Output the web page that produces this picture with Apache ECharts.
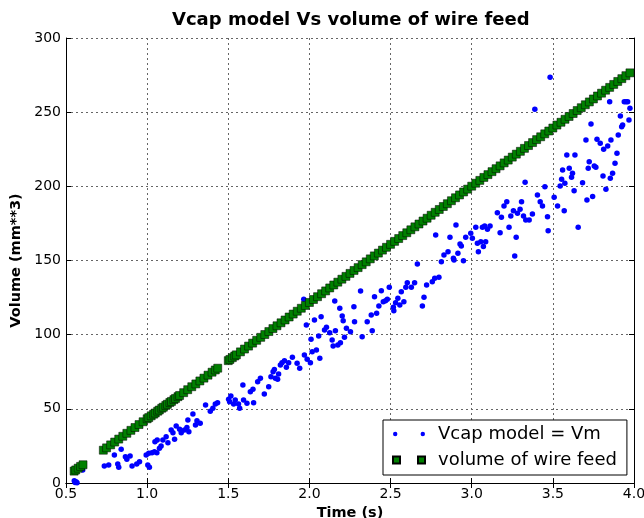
<!DOCTYPE html>
<html>
<head>
<meta charset="utf-8">
<script src="https://cdn.jsdelivr.net/npm/echarts@6/dist/echarts.min.js"></script>
<style>
  html, body { margin: 0; padding: 0; background: #fff; }
  #chart { width: 644px; height: 518px; }
</style>
</head>
<body>
<div id="chart"></div>
<script>
// Vcap model (blue dots)
const vcapTime = [
  0.551, 0.556, 0.562, 0.568, 0.603, 0.736, 0.763, 0.798, 0.819, 0.825,
  0.84, 0.866, 0.875, 0.895, 0.907, 0.936, 0.953, 0.994, 1.004, 1.01,
  1.014, 1.03, 1.045, 1.048, 1.06, 1.062, 1.076, 1.086, 1.097, 1.117,
  1.128, 1.148, 1.159, 1.169, 1.179, 1.2, 1.21, 1.23, 1.245, 1.251,
  1.257, 1.282, 1.298, 1.307, 1.327, 1.36, 1.389, 1.405, 1.42, 1.434,
  1.502, 1.508, 1.516, 1.533, 1.543, 1.563, 1.57, 1.59, 1.594, 1.615,
  1.636, 1.652, 1.656, 1.681, 1.698, 1.722, 1.749, 1.763, 1.776, 1.784,
  1.79, 1.804, 1.81, 1.821, 1.831, 1.846, 1.858, 1.872, 1.895, 1.924,
  1.94, 1.965, 1.969, 1.981, 1.986, 2.006, 2.01, 2.017, 2.031, 2.043,
  2.057, 2.064, 2.072, 2.093, 2.105, 2.125, 2.14, 2.146, 2.156, 2.16,
  2.175, 2.187, 2.191, 2.202, 2.208, 2.216, 2.228, 2.253, 2.274, 2.278,
  2.315, 2.325, 2.356, 2.381, 2.387, 2.401, 2.414, 2.428, 2.443, 2.455,
  2.469, 2.48, 2.492, 2.517, 2.52, 2.531, 2.545, 2.557, 2.566, 2.582,
  2.594, 2.603, 2.628, 2.648, 2.665, 2.696, 2.706, 2.722, 2.757, 2.772,
  2.778, 2.798, 2.813, 2.829, 2.854, 2.866, 2.887, 2.891, 2.903, 2.915,
  2.928, 2.936, 2.949, 2.963, 2.994, 3.004, 3.025, 3.035, 3.041, 3.056,
  3.066, 3.072, 3.08, 3.086, 3.097, 3.113, 3.158, 3.175, 3.183, 3.199,
  3.216, 3.23, 3.241, 3.257, 3.265, 3.274, 3.282, 3.298, 3.307, 3.319,
  3.329, 3.333, 3.354, 3.374, 3.389, 3.405, 3.422, 3.436, 3.451, 3.467,
  3.471, 3.483, 3.508, 3.529, 3.545, 3.554, 3.56, 3.57, 3.574, 3.586,
  3.601, 3.615, 3.621, 3.631, 3.636, 3.656, 3.683, 3.704, 3.71, 3.718,
  3.724, 3.735, 3.745, 3.755, 3.765, 3.772, 3.792, 3.809, 3.813, 3.827,
  3.838, 3.85, 3.854, 3.858, 3.868, 3.883, 3.895, 3.903, 3.916, 3.924,
  3.93, 3.94, 3.951, 3.961, 3.969, 3.975
];
const vcapVolume = [
  1.5, 0.3, 0.9, 0.2, 8.8, 11.5, 12.1, 18.9, 12.8, 10.6,
  22.7, 17.7, 16.0, 18.2, 11.5, 12.8, 14.4, 18.9, 12.1, 20.0,
  10.6, 20.4, 21.1, 27.8, 20.4, 29.0, 23.4, 24.9, 29.0, 31.2,
  27.2, 35.7, 33.9, 29.5, 38.4, 36.2, 33.9, 35.7, 37.5, 42.5,
  34.6, 46.5, 39.1, 42.0, 40.2, 52.6, 48.4, 50.4, 53.3, 54.1,
  56.4, 54.8, 58.7, 53.3, 56.0, 53.3, 50.4, 66.1, 56.0, 53.7,
  61.6, 63.2, 54.1, 68.3, 70.6, 60.0, 64.9, 71.7, 75.0, 76.6,
  70.6, 69.9, 73.5, 79.6, 81.1, 82.5, 78.0, 81.1, 84.7, 80.7,
  77.3, 123.8, 86.3, 106.5, 83.4, 81.1, 96.9, 88.5, 109.9, 89.7,
  99.1, 84.1, 112.1, 103.1, 105.0, 101.3, 96.4, 92.4, 122.7, 102.7,
  93.0, 117.8, 94.6, 112.6, 109.4, 98.2, 104.3, 102.0, 118.9, 108.7,
  129.4, 98.6, 108.7, 113.3, 102.7, 125.6, 114.4, 119.3, 129.6, 122.2,
  122.9, 123.8, 131.9, 118.4, 116.2, 121.6, 124.5, 120.0, 129.0, 122.2,
  131.9, 135.0, 131.9, 135.0, 147.6, 119.3, 125.2, 133.5, 135.7, 138.0,
  167.2, 138.7, 149.2, 153.7, 155.9, 165.6, 151.5, 150.3, 173.9, 154.9,
  161.1, 159.8, 149.9, 165.6, 168.3, 165.0, 172.4, 161.6, 155.9, 162.7,
  172.4, 159.4, 173.3, 162.7, 171.0, 173.3, 182.2, 168.7, 179.1, 186.7,
  189.6, 172.4, 180.0, 183.6, 153.1, 165.6, 181.8, 184.5, 189.6, 180.0,
  202.7, 177.3, 177.3, 181.4, 251.9, 194.2, 189.6, 186.7, 199.8, 179.5,
  170.1, 273.5, 192.6, 186.7, 200.2, 204.7, 211.0, 183.6, 202.0, 221.1,
  212.2, 206.1, 208.8, 197.1, 221.1, 172.4, 202.5, 231.2, 190.8, 212.2,
  216.6, 242.0, 193.1, 213.7, 212.8, 231.7, 229.0, 207.0, 225.0, 198.0,
  227.2, 257.1, 205.4, 231.2, 208.8, 215.5, 222.3, 234.6, 247.4, 240.2,
  241.3, 257.1, 257.1, 257.1, 244.7, 252.6
];

// volume of wire feed (green squares)
const feedTime = [
  0.55, 0.56, 0.575, 0.59, 0.605,
  0.73, 0.75, 0.775, 0.8, 0.825, 0.85, 0.875, 0.9, 0.925, 0.95, 0.975,
  1.0, 1.01, 1.025, 1.04, 1.05, 1.065, 1.075, 1.09, 1.1, 1.115, 1.125,
  1.14, 1.15, 1.165, 1.175, 1.19, 1.2, 1.225, 1.25, 1.275, 1.3, 1.325,
  1.35, 1.375, 1.4, 1.42, 1.435,
  1.5, 1.51, 1.525, 1.54, 1.55, 1.575, 1.6, 1.625, 1.65, 1.675, 1.7,
  1.725, 1.75, 1.775, 1.8, 1.825, 1.85, 1.875, 1.9, 1.925, 1.95, 1.975,
  2.0, 2.025, 2.05, 2.075, 2.1, 2.125, 2.15, 2.175, 2.2, 2.225, 2.25,
  2.275, 2.3, 2.325, 2.35, 2.375, 2.4, 2.425, 2.45, 2.475, 2.5, 2.525,
  2.55, 2.575, 2.6, 2.625, 2.65, 2.675, 2.7, 2.725, 2.75, 2.775, 2.8,
  2.825, 2.85, 2.875, 2.9, 2.925, 2.95, 2.975, 3.0, 3.025, 3.05, 3.075,
  3.1, 3.125, 3.15, 3.175, 3.2, 3.225, 3.25, 3.275, 3.3, 3.325, 3.35,
  3.375, 3.4, 3.425, 3.45, 3.475, 3.5, 3.525, 3.55, 3.575, 3.6, 3.625,
  3.65, 3.675, 3.7, 3.725, 3.75, 3.775, 3.8, 3.825, 3.85, 3.875, 3.9,
  3.925, 3.95, 3.975
];
const feedVolume = [
  8.0, 8.8, 10.0, 11.2, 12.3,
  22.1, 23.7, 25.7, 27.6, 29.6, 31.5, 33.5, 35.5, 37.4, 39.4, 41.3,
  43.3, 44.1, 45.3, 46.4, 47.2, 48.4, 49.2, 50.4, 51.1, 52.3, 53.1,
  54.3, 55.0, 56.2, 57.0, 58.2, 59.0, 60.9, 62.9, 64.9, 66.8, 68.8,
  70.7, 72.7, 74.7, 76.2, 77.4,
  82.5, 83.3, 84.5, 85.6, 86.4, 88.4, 90.3, 92.3, 94.3, 96.2, 98.2,
  100.1, 102.1, 104.1, 106.0, 108.0, 109.9, 111.9, 113.9, 115.8, 117.8, 119.7,
  121.7, 123.7, 125.6, 127.6, 129.5, 131.5, 133.5, 135.4, 137.4, 139.3, 141.3,
  143.3, 145.2, 147.2, 149.1, 151.1, 153.1, 155.0, 157.0, 158.9, 160.9, 162.9,
  164.8, 166.8, 168.7, 170.7, 172.7, 174.6, 176.6, 178.5, 180.5, 182.5, 184.4,
  186.4, 188.3, 190.3, 192.3, 194.2, 196.2, 198.1, 200.1, 202.1, 204.0, 206.0,
  207.9, 209.9, 211.9, 213.8, 215.8, 217.7, 219.7, 221.7, 223.6, 225.6, 227.5,
  229.5, 231.5, 233.4, 235.4, 237.3, 239.3, 241.3, 243.2, 245.2, 247.1, 249.1,
  251.1, 253.0, 255.0, 256.9, 258.9, 260.9, 262.8, 264.8, 266.7, 268.7, 270.7,
  272.6, 274.6, 276.5
];

const FONT = 'DejaVu Sans';
const pair = (xs, ys) => xs.map((x, i) => [x, ys[i]]);

const frameLine = { show: true, lineStyle: { color: '#000', width: 1 } };
const tick = { show: true, inside: true, length: 5, lineStyle: { color: '#000', width: 1 } };
const grid = { show: true, lineStyle: { color: '#666', width: 1, type: [2, 3] } };

const chart = echarts.init(document.getElementById('chart'), null, { renderer: 'canvas' });
chart.setOption({
  animation: false,
  backgroundColor: '#fff',
  title: {
    text: 'Vcap model Vs volume of wire feed',
    left: 172, top: 11, padding: 0,
    textStyle: { fontFamily: FONT, fontSize: 18, fontWeight: 'bold', color: '#000' }
  },
  // keep the plot box fixed; labels may run to the canvas edge like the original
  grid: { left: 66, right: 10, top: 38, bottom: 35, outerBoundsMode: 'none', containLabel: false },
  legend: {
    orient: 'vertical',
    left: 383, top: 420,
    padding: [4, 10, 5, 9],
    itemGap: 6,
    itemWidth: 32, itemHeight: 7,
    backgroundColor: '#fff',
    borderColor: '#000', borderWidth: 1, borderRadius: 0,
    textStyle: { fontFamily: FONT, fontSize: 18, color: '#000', padding: [0, 0, 0, 8], lineHeight: 20 },
    data: [
      { name: 'Vcap model = Vm', icon: 'path://M1.5,3.5a2,2 0 1,0 4,0a2,2 0 1,0 -4,0M26.5,3.5a2,2 0 1,0 4,0a2,2 0 1,0 -4,0' },
      { name: 'volume of wire feed', icon: 'path://M0,0H7V7H0ZM25,0H32V7H25Z' }
    ]
  },
  xAxis: [
    {
      type: 'value', position: 'bottom', min: 0.5, max: 4.0, interval: 0.5,
      name: 'Time (s)', nameLocation: 'middle', nameGap: 20,
      nameTextStyle: { fontFamily: FONT, fontSize: 14.5, fontWeight: 'bold', color: '#000' },
      axisLine: frameLine, axisTick: tick, splitLine: grid,
      axisLabel: { fontFamily: FONT, fontSize: 14, color: '#000', margin: 4, formatter: (v) => v.toFixed(1) }
    },
    {
      type: 'value', position: 'top', min: 0.5, max: 4.0, interval: 0.5,
      axisLine: frameLine, axisTick: tick, splitLine: { show: false }, axisLabel: { show: false }
    }
  ],
  yAxis: [
    {
      type: 'value', position: 'left', min: 0, max: 300, interval: 50,
      name: 'Volume (mm**3)', nameLocation: 'middle', nameGap: 37,
      nameTextStyle: { fontFamily: FONT, fontSize: 14.5, fontWeight: 'bold', color: '#000' },
      axisLine: frameLine, axisTick: tick, splitLine: grid,
      axisLabel: { fontFamily: FONT, fontSize: 14, color: '#000', margin: 5 }
    },
    {
      type: 'value', position: 'right', min: 0, max: 300, interval: 50,
      axisLine: frameLine, axisTick: tick, splitLine: { show: false }, axisLabel: { show: false }
    }
  ],
  series: [
    {
      name: 'Vcap model = Vm',
      type: 'scatter',
      data: pair(vcapTime, vcapVolume),
      symbol: 'circle', symbolSize: 5.5,
      itemStyle: { color: '#0000ff', opacity: 1 }
    },
    {
      name: 'volume of wire feed',
      type: 'scatter',
      data: pair(feedTime, feedVolume),
      symbol: 'rect', symbolSize: 8,
      itemStyle: { color: '#008000', borderColor: '#000', borderWidth: 0.5, opacity: 1 }
    }
  ]
});
</script>
</body>
</html>
